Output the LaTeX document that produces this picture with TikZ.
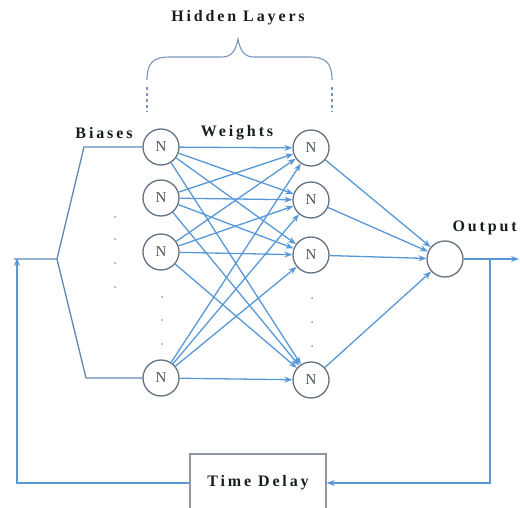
\documentclass[tikz,border=0pt]{standalone}
\usepackage{fontspec}
\setmainfont{Liberation Serif}
\newfontfamily\labfont{Liberation Serif}[LetterSpace=18]
\usetikzlibrary{arrows.meta}
\definecolor{wire}{RGB}{88,152,214}
\definecolor{biasc}{RGB}{95,135,180}
\definecolor{ring}{RGB}{100,114,130}
\definecolor{ntext}{RGB}{75,85,92}
\definecolor{ink}{RGB}{22,30,30}
\definecolor{dotc}{RGB}{150,155,160}
\definecolor{bracec}{RGB}{120,150,185}
\definecolor{boxc}{RGB}{140,150,165}
\begin{document}
\begin{tikzpicture}[x=1pt,y=-1pt,
  neuron/.style={circle,draw=ring,line width=1.3pt,minimum size=36pt,inner sep=0pt,
    font=\fontsize{15}{15}\selectfont,text=ntext},
  wirel/.style={draw=wire,line width=1.3pt},
  arr/.style={wirel,-{Stealth[length=8pt,width=6pt]}},
  biasl/.style={draw=biasc,line width=1.3pt},
  lab/.style={font=\labfont\bfseries\fontsize{16}{18}\selectfont,text=ink,inner sep=0pt},
  delaybox/.style={draw=boxc,line width=1.3pt,minimum width=136pt,minimum height=58pt,inner sep=0pt,
    font=\labfont\bfseries\fontsize{16}{18}\selectfont,text=ink},
  bracel/.style={draw=bracec,line width=1.1pt},
  dotm/.style={fill=dotc}
]
\useasboundingbox (0,0) rectangle (520,508);

% neurons
\node[neuron] (l1) at (161,147) {N};
\node[neuron] (l2) at (161,198) {N};
\node[neuron] (l3) at (161,252) {N};
\node[neuron] (l4) at (161,378) {N};
\node[neuron] (r1) at (311,148) {N};
\node[neuron] (r2) at (311,200) {N};
\node[neuron] (r3) at (311,255) {N};
\node[neuron] (r4) at (311,380) {N};
\node[neuron] (o) at (445,259) {};

% weights
\foreach \a in {l1,l2,l3,l4}
  \foreach \b in {r1,r2,r3,r4}
    \draw[arr] (\a) -- (\b);
\foreach \b in {r1,r2,r3,r4}
  \draw[arr] (\b) -- (o);

% biases
\coordinate (bin) at (14,259);
\coordinate (bj) at (57,259);
\coordinate (bu) at (84,147);
\coordinate (bd) at (86,378);
\draw[biasl] (bin) -- (bj) -- (bu) -- (l1);
\draw[biasl] (bj) -- (bd) -- (l4);

% output and feedback
\coordinate (out) at (519,259);
\coordinate (tap) at (490,259);
\coordinate (fr) at (490,483);
\coordinate (fl) at (17,483);
\coordinate (fu) at (17,258);
\node[delaybox] (td) at (258,483) {Time Delay};
\draw[arr] (o) -- (out);
\draw[arr] (tap) -- (fr) -- (td.east);
\draw[arr] (td.west) -- (fl) -- (fu);

% dots
\foreach \y in {217,239,263,287} \fill[dotm] (115,\y) circle (1pt);
\foreach \y in {297,320,344} \fill[dotm] (162,\y) circle (1pt);
\foreach \y in {298,322,346} \fill[dotm] (312,\y) circle (1pt);

% brace
\draw[bracel] (147,80) .. controls (147,63) and (153,57) .. (170,57) -- (222,57)
  .. controls (232,57) and (236,50) .. (238,39)
  .. controls (240,50) and (244,57) .. (254,57) -- (309,57)
  .. controls (326,57) and (332,63) .. (332,80);
\draw[bracel,dashed] (147,87) -- (147,112);
\draw[bracel,dashed] (332,87) -- (332,112);

% labels
\node[lab] (hid) at (238,18) {Hidden Layers};
\node[lab] (bia) at (104,133) {Biases};
\node[lab] (wei) at (237,133) {Weights};
\node[lab,anchor=east] (outl) at (517,228) {Output};
\end{tikzpicture}
\end{document}
